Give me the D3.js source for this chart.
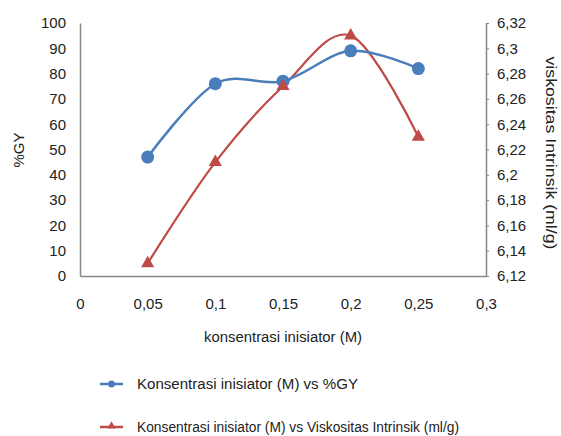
<!DOCTYPE html>
<html>
<head>
<meta charset="utf-8">
<script src="https://cdn.jsdelivr.net/npm/d3@7"></script>
<style>
  html, body { margin: 0; padding: 0; background: #fff; }
  svg { display: block; font-family: "Liberation Sans", Arial, sans-serif; }
</style>
</head>
<body>
<svg id="chart" width="561" height="436"></svg>
<script>
// Initiator concentration (M)
const konsentrasi = [0.05, 0.1, 0.15, 0.2, 0.25];
// Grafting yield (%GY), left axis
const gy = [47, 76, 77, 89, 82];
// Intrinsic viscosity (ml/g), right axis
const viskositas = [6.13, 6.21, 6.27, 6.31, 6.23];

const xTicks = [0, 0.05, 0.1, 0.15, 0.2, 0.25, 0.3];
const yLeftTicks = [0, 10, 20, 30, 40, 50, 60, 70, 80, 90, 100];
const yRightTicks = [6.12, 6.14, 6.16, 6.18, 6.2, 6.22, 6.24, 6.26, 6.28, 6.3, 6.32];

const seriesNames = [
  "Konsentrasi inisiator (M) vs %GY",
  "Konsentrasi inisiator (M) vs Viskositas Intrinsik (ml/g)"
];

const blue = "#4A7EBB", red = "#BE4B48", axisCol = "#868686", textCol = "#222";
const fmt = v => String(v).replace(".", ",");

const svg = d3.select("#chart");
const plot = { left: 80, right: 486, top: 23, bottom: 276 };

const x = d3.scaleLinear().domain([0, 0.3]).range([plot.left, plot.right]);
const yL = d3.scaleLinear().domain([0, 100]).range([plot.bottom, plot.top]);
const yR = d3.scaleLinear().domain([6.12, 6.32]).range([plot.bottom, plot.top]);

// Axes
const axisStyle = g => {
  g.select(".domain").attr("stroke", axisCol).attr("stroke-width", 1.5);
  g.selectAll(".tick line").attr("stroke", axisCol);
  g.selectAll(".tick text").attr("fill", textCol).style("font-size", "15px");
};

svg.append("g")
  .attr("transform", `translate(0,${plot.bottom})`)
  .call(d3.axisBottom(x).tickValues(xTicks).tickFormat(fmt).tickSize(0).tickPadding(30).tickSizeOuter(0))
  .call(axisStyle)
  .call(g => g.selectAll(".tick text").attr("dy", "0.2em"));

svg.append("g")
  .attr("transform", `translate(${plot.left},0)`)
  .call(d3.axisLeft(yL).tickValues(yLeftTicks).tickSize(0).tickPadding(14).tickSizeOuter(0))
  .call(axisStyle);

svg.append("g")
  .attr("transform", `translate(${plot.right},0)`)
  .call(d3.axisRight(yR).tickValues(yRightTicks).tickFormat(fmt).tickSize(3).tickPadding(8).tickSizeOuter(0))
  .call(axisStyle);

// Axis titles
svg.append("text")
  .attr("transform", "translate(24,150) rotate(-90)")
  .attr("text-anchor", "middle")
  .attr("fill", textCol).style("font-size", "15px")
  .text("%GY");

svg.append("text")
  .attr("transform", "translate(546,153) rotate(90)")
  .attr("text-anchor", "middle")
  .attr("fill", textCol).style("font-size", "14.5px")
  .attr("textLength", 193).attr("lengthAdjust", "spacingAndGlyphs")
  .text("viskositas Intrinsik (ml/g)");

svg.append("text")
  .attr("x", 283).attr("y", 342)
  .attr("text-anchor", "middle")
  .attr("fill", textCol).style("font-size", "14px")
  .attr("textLength", 158).attr("lengthAdjust", "spacingAndGlyphs")
  .text("konsentrasi inisiator (M)");

// Series lines (smoothed)
const lineL = d3.line().x((d, i) => x(konsentrasi[i])).y(d => yL(d)).curve(d3.curveCardinal.tension(0));
const lineR = d3.line().x((d, i) => x(konsentrasi[i])).y(d => yR(d)).curve(d3.curveCardinal.tension(0));

svg.append("path").datum(viskositas)
  .attr("d", lineR).attr("fill", "none").attr("stroke", red).attr("stroke-width", 2.2);
svg.append("path").datum(gy)
  .attr("d", lineL).attr("fill", "none").attr("stroke", blue).attr("stroke-width", 2.5);

const tri = d3.symbol().type(d3.symbolTriangle).size(75);

svg.append("g").selectAll("circle").data(gy).join("circle")
  .attr("cx", (d, i) => x(konsentrasi[i])).attr("cy", d => yL(d))
  .attr("r", 6.5).attr("fill", blue);

svg.append("g").selectAll("path").data(viskositas).join("path")
  .attr("d", tri)
  .attr("transform", (d, i) => `translate(${x(konsentrasi[i])},${yR(d)})`)
  .attr("fill", red);

// Legend
const legend = svg.append("g");
const legendRows = [
  { y: 384, color: blue, marker: "circle", len: 221 },
  { y: 427, color: red, marker: "triangle", len: 322 }
];
legendRows.forEach((r, i) => {
  legend.append("line")
    .attr("x1", 100).attr("x2", 123).attr("y1", r.y).attr("y2", r.y)
    .attr("stroke", r.color).attr("stroke-width", 2.5);
  if (r.marker === "circle") {
    legend.append("circle").attr("cx", 111.5).attr("cy", r.y).attr("r", 3.5).attr("fill", r.color);
  } else {
    legend.append("path").attr("d", d3.symbol().type(d3.symbolTriangle).size(30))
      .attr("transform", `translate(111.5,${r.y - 1})`).attr("fill", r.color);
  }
  legend.append("text")
    .attr("x", 137).attr("y", r.y + 5)
    .attr("fill", textCol).style("font-size", "14px")
    .attr("textLength", r.len).attr("lengthAdjust", "spacingAndGlyphs")
    .text(seriesNames[i]);
});
</script>
</body>
</html>
